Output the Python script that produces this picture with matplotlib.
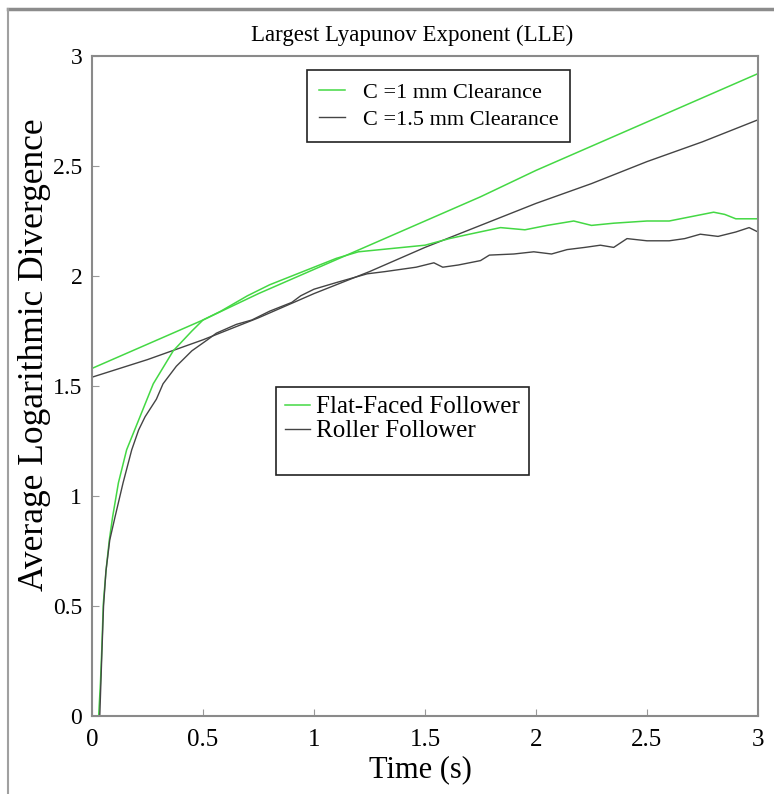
import matplotlib
matplotlib.use("Agg")
import matplotlib.pyplot as plt
from matplotlib.lines import Line2D

plt.rcParams['font.family'] = ['Liberation Serif', 'DejaVu Serif']

# Clearance runs (near-linear growth)
t_clear = [0.0, 0.25, 0.5, 0.75, 1.0, 1.25, 1.5, 1.75, 2.0, 2.25, 2.5, 2.75, 3.0]
c1_mm = [1.58, 1.69, 1.80, 1.92, 2.03, 2.14, 2.25, 2.36, 2.48, 2.59, 2.70, 2.81, 2.92]
c15_mm = [1.54, 1.62, 1.71, 1.81, 1.92, 2.02, 2.13, 2.23, 2.33, 2.42, 2.52, 2.61, 2.71]

# Follower types (fast rise, then saturation)
t_flat = [0.030, 0.038, 0.044, 0.051, 0.063, 0.078, 0.093, 0.119, 0.156, 0.216,
          0.276, 0.366, 0.45, 0.50, 0.58, 0.70, 0.80, 0.90, 1.00, 1.10,
          1.20, 1.30, 1.40, 1.50, 1.61, 1.70, 1.84, 1.95, 2.05, 2.17,
          2.25, 2.35, 2.50, 2.60, 2.70, 2.80, 2.85, 2.90, 3.00]
flat_faced = [0.00, 0.15, 0.30, 0.51, 0.66, 0.80, 0.906, 1.06, 1.21, 1.36,
              1.51, 1.66, 1.75, 1.80, 1.84, 1.91, 1.96, 2.00, 2.04, 2.08,
              2.11, 2.12, 2.13, 2.14, 2.17, 2.19, 2.22, 2.21, 2.23, 2.25,
              2.23, 2.24, 2.25, 2.25, 2.27, 2.29, 2.28, 2.26, 2.26]

t_roller = [0.035, 0.040, 0.045, 0.052, 0.063, 0.080, 0.104, 0.140, 0.179, 0.210,
            0.239, 0.29, 0.32, 0.38, 0.45, 0.52, 0.56, 0.65, 0.72, 0.76,
            0.80, 0.85, 0.90, 0.94, 1.00, 1.10, 1.24, 1.32, 1.39, 1.46,
            1.54, 1.58, 1.65, 1.75, 1.79, 1.90, 1.99, 2.07, 2.14, 2.22,
            2.29, 2.35, 2.41, 2.50, 2.60, 2.67, 2.74, 2.82, 2.90, 2.96, 3.00]
roller = [0.00, 0.15, 0.30, 0.50, 0.66, 0.80, 0.906, 1.06, 1.21, 1.30,
          1.36, 1.44, 1.51, 1.59, 1.66, 1.71, 1.74, 1.78, 1.80, 1.82,
          1.84, 1.86, 1.88, 1.91, 1.94, 1.97, 2.01, 2.02, 2.03, 2.04,
          2.06, 2.04, 2.05, 2.07, 2.095, 2.10, 2.11, 2.10, 2.12, 2.13,
          2.14, 2.13, 2.17, 2.16, 2.16, 2.17, 2.19, 2.18, 2.20, 2.22, 2.20]

x_ticks = [0, 0.5, 1, 1.5, 2, 2.5, 3]
y_ticks = [0, 0.5, 1, 1.5, 2, 2.5, 3]
tick_labels = ['0', '0.5', '1', '1.5', '2', '2.5', '3']

GREEN = '#44d844'
GRAY = '#444444'
SPINE = '#8a8a8a'

W, H = 774, 794
fig = plt.figure(figsize=(W / 100, H / 100), dpi=100)
fig.patch.set_facecolor('white')

# window frame along top and left edges
fig.add_artist(Line2D([8 / W, 1.0], [1 - 9 / H, 1 - 9 / H],
                      transform=fig.transFigure, color='#8c8c8c', lw=2.5))
fig.add_artist(Line2D([8 / W, 8 / W], [0.0, 1 - 9 / H],
                      transform=fig.transFigure, color='#a0a0a0', lw=1.5))

ax = fig.add_axes([92 / W, 78 / H, 666 / W, 660 / H])

l1, = ax.plot(t_clear, c1_mm, color=GREEN, lw=1.1, label='C =1 mm Clearance')
l2, = ax.plot(t_clear, c15_mm, color=GRAY, lw=1.0, label='C =1.5 mm Clearance')
l3, = ax.plot(t_flat, flat_faced, color=GREEN, lw=1.1, label='Flat-Faced Follower')
l4, = ax.plot(t_roller, roller, color=GRAY, lw=1.0, label='Roller Follower')

ax.set_xlim(0, 3)
ax.set_ylim(0, 3)
ax.set_xticks(x_ticks)
ax.set_yticks(y_ticks)
ax.set_xticklabels(tick_labels, fontsize=18)
ax.set_yticklabels(tick_labels, fontsize=17)
ax.tick_params(direction='in', length=5, width=0.8, color='#999999')
ax.tick_params(axis='x', pad=9)
ax.tick_params(axis='y', pad=7)
for s in ax.spines.values():
    s.set_color(SPINE)
    s.set_linewidth(1.5)

fig.text(420 / W, 1 - 770 / H, 'Time (s)', ha='center', va='center', fontsize=22)
fig.text(35 / W, 1 - 355 / H, 'Average Logarithmic Divergence', rotation=90,
         ha='center', va='center', fontsize=25.5)
fig.text(412 / W, 1 - 35 / H, 'Largest Lyapunov Exponent (LLE)',
         ha='center', va='center', fontsize=16.5)

leg1 = ax.legend(handles=[l1, l2], loc='upper left',
                 bbox_to_anchor=((307 - 92) / 666, (716 - 70) / 660),
                 borderaxespad=0, fontsize=16, handlelength=1.15,
                 handletextpad=0.8, labelspacing=0.3, borderpad=0.55,
                 fancybox=False, framealpha=1, edgecolor='#222222')
leg1.get_frame().set_linewidth(1.2)
ax.add_artist(leg1)

# trailing blank row leaves the empty band at the bottom of the box
blank = Line2D([], [], color='none')
leg2 = ax.legend(handles=[l3, l4, blank],
                 labels=['Flat-Faced Follower', 'Roller Follower', ' '],
                 loc='upper left',
                 bbox_to_anchor=((276 - 92) / 666, (716 - 387) / 660),
                 borderaxespad=0, fontsize=18, handlelength=1.0,
                 handletextpad=0.25, labelspacing=0.06, borderpad=0.35,
                 fancybox=False, framealpha=1, edgecolor='#222222')
leg2.get_frame().set_linewidth(1.2)

fig.savefig('out.png', dpi=100, facecolor='white')
